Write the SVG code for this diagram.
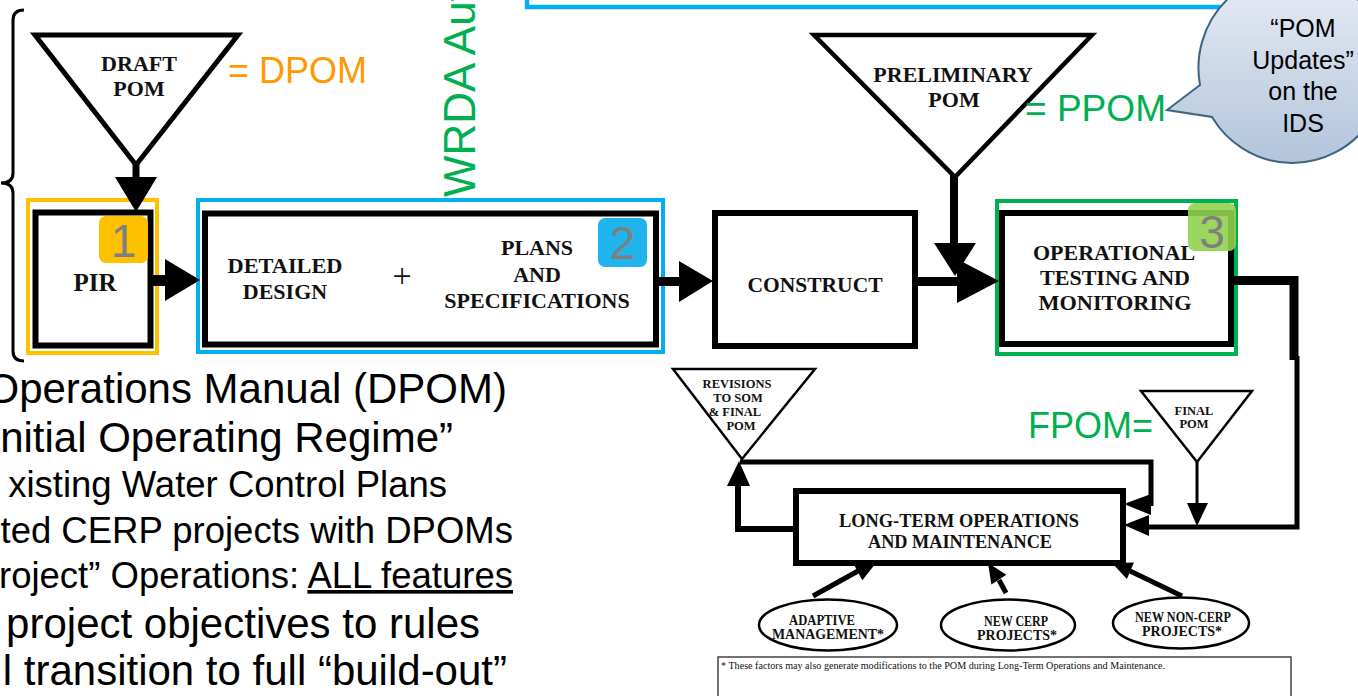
<svg xmlns="http://www.w3.org/2000/svg" width="1358" height="696" viewBox="0 0 1358 696">
<defs>
<linearGradient id="bubbleGrad" x1="0" y1="0" x2="0" y2="1">
<stop offset="0" stop-color="#E8EDF5"/>
<stop offset="1" stop-color="#B2C4DB"/>
</linearGradient>
<style>
.box{fill:#fff;stroke:#000;stroke-width:6}
.tri{fill:#fff;stroke:#000;stroke-linejoin:miter}
.lbl{font-family:"Liberation Serif","Times New Roman",serif;font-weight:bold;fill:#111;text-anchor:middle}
.sans{font-family:"Liberation Sans",Arial,sans-serif}
.conn{fill:none;stroke:#000;stroke-linejoin:miter}
.head{fill:#000}
.badge{font-family:"Liberation Sans",Arial,sans-serif;font-size:46px;fill:#7F7F7F;text-anchor:middle}
.hl{fill:none;stroke-width:4}
</style>
</defs>
<rect width="1358" height="696" fill="#fff"/>

<g id="top-frame">
<rect x="527" y="-40" width="1000" height="47" fill="none" stroke="#00B0F0" stroke-width="4.5"/>
</g>

<g id="brace">
<path d="M24 10 Q13 10 13 20 V173 Q13 183 1 183 Q13 183 13 193 V351 Q13 361 24 361" fill="none" stroke="#000" stroke-width="3"/>
</g>

<g id="wrda">
<text class="sans" transform="translate(475,197) rotate(-90)" font-size="44" fill="#00B050">WRDA Aut</text>
</g>

<g id="draft-pom">
<polygon class="tri" points="35,35 238,35 136,165" stroke-width="5"/>
<text class="lbl" x="139" y="71" font-size="22">DRAFT</text>
<text class="lbl" x="139" y="96" font-size="22">POM</text>
<text class="sans" x="228" y="83" font-size="36" fill="#FF9900">= DPOM</text>
</g>

<g id="preliminary-pom">
<polygon class="tri" points="814,35 1092,35 955,177" stroke-width="4.5"/>
<text class="lbl" x="953" y="82" font-size="22">PRELIMINARY</text>
<text class="lbl" x="954" y="107" font-size="22">POM</text>
<text class="sans" x="1025" y="121" font-size="36" fill="#00B050" textLength="141" lengthAdjust="spacingAndGlyphs">= PPOM</text>
</g>

<g id="callout">
<path d="M1200 85 L1167 110 L1212 117 A94 95 0 1 0 1200 85 Z" fill="url(#bubbleGrad)" stroke="#3E6485" stroke-width="2"/>
<g class="sans" font-size="25" fill="#000" text-anchor="middle">
<text x="1303" y="37">“POM</text>
<text x="1303" y="69">Updates”</text>
<text x="1303" y="100">on the</text>
<text x="1303" y="132">IDS</text>
</g>
</g>

<g id="pir">
<rect class="box" x="35.5" y="212.5" width="115" height="133"/>
<rect class="hl" x="28" y="200" width="129" height="153" stroke="#FFC000"/>
<rect x="99" y="216" width="49" height="47" rx="7" fill="#FFC000"/>
<text class="badge" x="123.5" y="257">1</text>
<text class="lbl" x="95" y="291" font-size="25">PIR</text>
</g>

<g id="design">
<rect class="box" x="205" y="213.5" width="451" height="131"/>
<rect class="hl" x="198" y="200" width="465" height="152" stroke="#00B0F0"/>
<rect x="598" y="218" width="49" height="49" rx="7" fill="#1FB5EC"/>
<text class="badge" x="622.5" y="259">2</text>
<text class="lbl" x="285" y="273" font-size="22" textLength="115" lengthAdjust="spacingAndGlyphs">DETAILED</text>
<text class="lbl" x="285" y="299" font-size="22">DESIGN</text>
<text x="402" y="287" font-size="34" font-family="Liberation Serif, serif" fill="#111" text-anchor="middle">+</text>
<text class="lbl" x="537" y="255" font-size="22">PLANS</text>
<text class="lbl" x="537" y="282" font-size="22">AND</text>
<text class="lbl" x="537" y="308" font-size="22">SPECIFICATIONS</text>
</g>

<g id="construct">
<rect class="box" x="715" y="213" width="200" height="133" stroke-width="5"/>
<text class="lbl" x="815" y="292" font-size="22" textLength="135" lengthAdjust="spacingAndGlyphs">CONSTRUCT</text>
</g>

<g id="testing">
<rect class="box" x="1002" y="213" width="229" height="131" stroke-width="5"/>
<rect class="hl" x="997" y="201" width="239" height="153" stroke="#00B050"/>
<rect x="1188" y="203" width="48" height="48" rx="7" fill="#92D050" opacity="0.9"/>
<text class="badge" x="1212" y="248">3</text>
<text class="lbl" x="1114" y="260" font-size="22">OPERATIONAL</text>
<text class="lbl" x="1115" y="285" font-size="22" textLength="150" lengthAdjust="spacingAndGlyphs">TESTING AND</text>
<text class="lbl" x="1115" y="310" font-size="22" textLength="153" lengthAdjust="spacingAndGlyphs">MONITORING</text>
</g>

<g id="revisions">
<polygon class="tri" points="673,369 815,369 742,459" stroke-width="2.5"/>
<g class="lbl" font-size="12.5">
<text x="737" y="388">REVISIONS</text>
<text x="738" y="402">TO SOM</text>
<text x="735" y="416">&amp; FINAL</text>
<text x="741" y="430">POM</text>
</g>
</g>

<g id="final-pom">
<polygon class="tri" points="1141,391 1252,391 1197,462" stroke-width="2.5"/>
<text class="lbl" x="1194" y="415" font-size="12.5">FINAL</text>
<text class="lbl" x="1194" y="428" font-size="12.5">POM</text>
<text class="sans" x="1153" y="438" font-size="36" fill="#00B050" text-anchor="end">FPOM=</text>
</g>

<g id="ltom">
<rect class="box" x="796" y="491" width="327" height="72" stroke-width="3"/>
<text class="lbl" x="959" y="527" font-size="19" textLength="240" lengthAdjust="spacingAndGlyphs">LONG-TERM OPERATIONS</text>
<text class="lbl" x="960" y="548" font-size="19" textLength="184" lengthAdjust="spacingAndGlyphs">AND MAINTENANCE</text>
</g>

<g id="adaptive">
<ellipse cx="828" cy="625" rx="69" ry="25.5" fill="#fff" stroke="#000" stroke-width="2.5"/>
<text class="lbl" x="822" y="625" font-size="14" textLength="66" lengthAdjust="spacingAndGlyphs">ADAPTIVE</text>
<text class="lbl" x="828" y="639" font-size="14" textLength="112" lengthAdjust="spacingAndGlyphs">MANAGEMENT*</text>
</g>

<g id="new-cerp">
<ellipse cx="1008" cy="625" rx="67" ry="25.5" fill="#fff" stroke="#000" stroke-width="2.5"/>
<text class="lbl" x="1016" y="626" font-size="14" textLength="64" lengthAdjust="spacingAndGlyphs">NEW CERP</text>
<text class="lbl" x="1017" y="640" font-size="14" textLength="80" lengthAdjust="spacingAndGlyphs">PROJECTS*</text>
</g>

<g id="new-non-cerp">
<ellipse cx="1181" cy="623" rx="68" ry="25.5" fill="#fff" stroke="#000" stroke-width="2.5"/>
<text class="lbl" x="1183" y="622" font-size="14" textLength="96" lengthAdjust="spacingAndGlyphs">NEW NON-CERP</text>
<text class="lbl" x="1182" y="636" font-size="14" textLength="80" lengthAdjust="spacingAndGlyphs">PROJECTS*</text>
</g>

<g id="connectors">
<path class="conn" d="M136 163 V182" stroke-width="7"/>
<polygon class="head" points="115,177 157,177 136,212"/>
<path class="conn" d="M153 280.5 H168" stroke-width="11"/>
<polygon class="head" points="165,259 165,301 200,280"/>
<path class="conn" d="M658 281.5 H682" stroke-width="9"/>
<polygon class="head" points="679,261 679,302 713,281"/>
<path class="conn" d="M917 281.5 H960" stroke-width="9"/>
<polygon class="head" points="957,259 957,303 999,281"/>
<path class="conn" d="M954 175 V246" stroke-width="8"/>
<polygon class="head" points="934,243 976,243 955,276"/>
<path class="conn" d="M1233 280.5 H1294 V360" stroke-width="9"/>
<path class="conn" d="M1297 356 V527 H1146" stroke-width="5"/>
<polygon class="head" points="1149,515 1149,536 1124,525"/>
<path class="conn" d="M1197 462 V506" stroke-width="3"/>
<polygon class="head" points="1187,503 1208,503 1197,526"/>
<path class="conn" d="M740 462 H1151 V506" stroke-width="5"/>
<polygon class="head" points="1151,494 1151,515 1124,504"/>
<path class="conn" d="M796 529 H738 V483" stroke-width="6"/>
<polygon class="head" points="727,486 750,486 739,461"/>
<path class="conn" d="M813 596 L858 571" stroke-width="5"/>
<polygon class="head" points="862.3,580.3 853.1,562.9 876,563"/>
<path class="conn" d="M1006 593 L999 580" stroke-width="5"/>
<polygon class="head" points="1006.4,574.8 991.4,584.6 988,563"/>
<path class="conn" d="M1182 596 L1130 571" stroke-width="5"/>
<polygon class="head" points="1133.9,562.5 1126.9,579.1 1112,563"/>
</g>

<g id="footnote">
<rect x="718" y="657" width="573" height="60" fill="#fff" stroke="#444" stroke-width="1.5"/>
<text x="721" y="669" font-size="11" font-family="Liberation Serif, serif" fill="#111" textLength="444" lengthAdjust="spacingAndGlyphs">* These factors may also generate modifications to the POM during Long-Term Operations and Maintenance.</text>
</g>

<g id="notes" class="sans" fill="#000" text-anchor="end">
<text x="507" y="403" font-size="42">Operations Manual (DPOM)</text>
<text x="453" y="452" font-size="42">nitial Operating Regime”</text>
<text x="447" y="497" font-size="36.5">xisting Water Control Plans</text>
<text x="513" y="543" font-size="36.5">ted CERP projects with DPOMs</text>
<text x="513" y="588" font-size="36.5">roject” Operations: <tspan text-decoration="underline">ALL features</tspan></text>
<text x="480" y="638" font-size="42">project objectives to rules</text>
<text x="507" y="685" font-size="42">l transition to full “build-out”</text>
</g>
</svg>
